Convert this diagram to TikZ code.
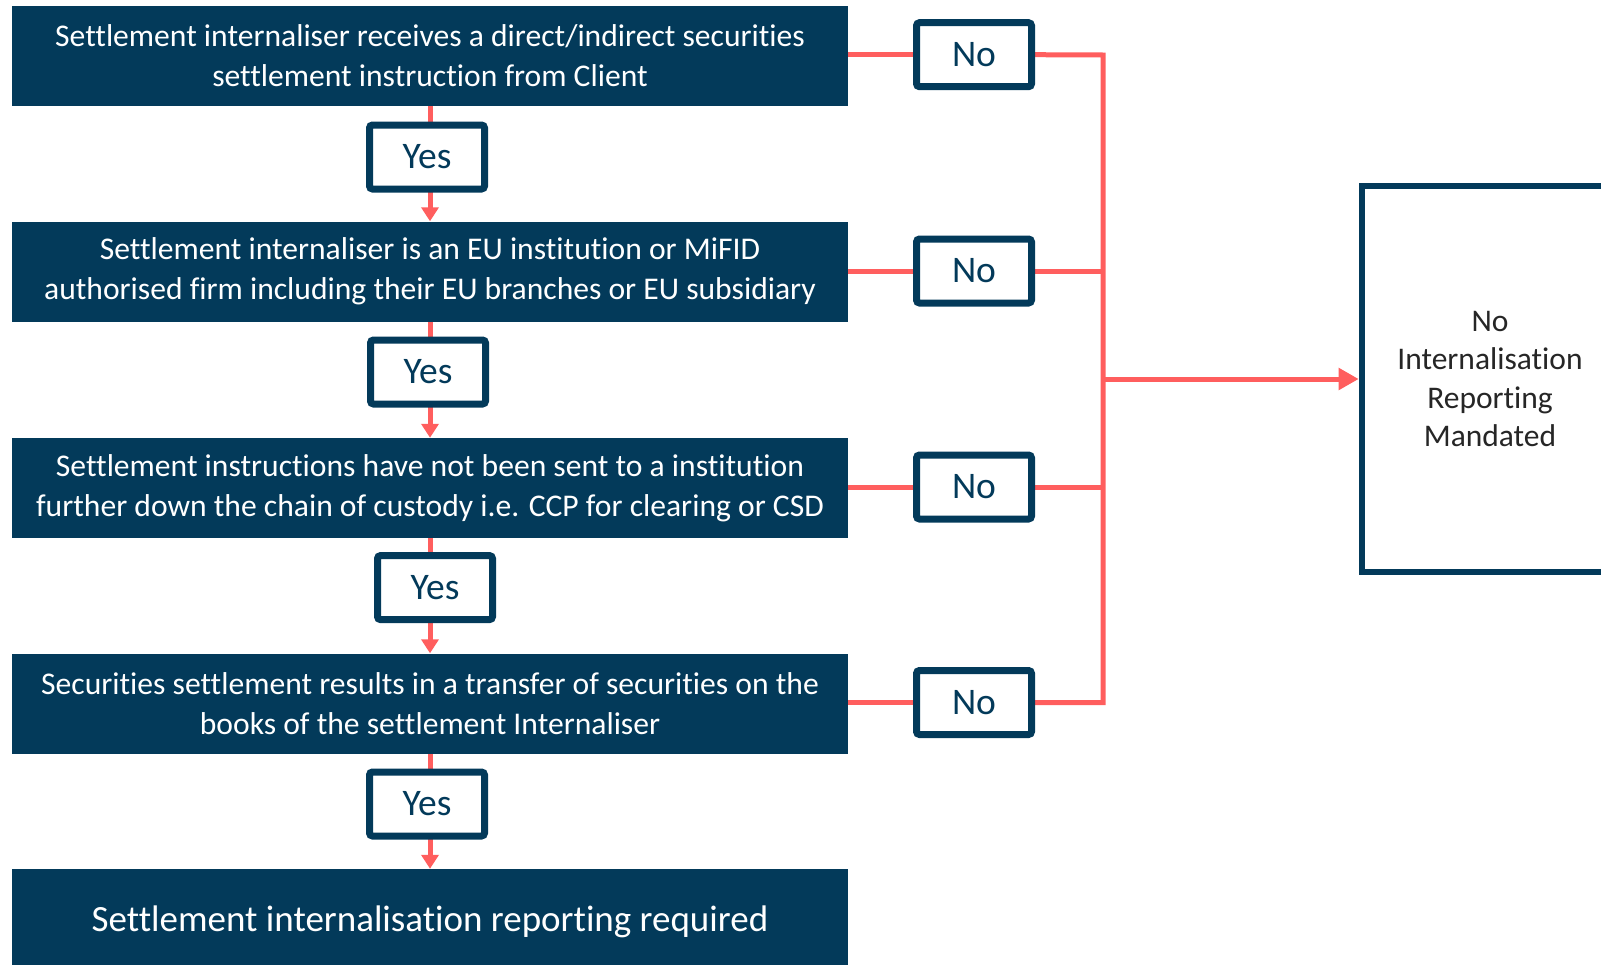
\documentclass[tikz,border=0pt]{standalone}
\usepackage{fontspec}
\setmainfont{Carlito}[Ligatures=NoCommon]
\usetikzlibrary{arrows.meta,backgrounds}
\definecolor{navy}{RGB}{3,58,90}
\definecolor{redl}{RGB}{255,94,94}
\definecolor{txtdark}{RGB}{38,38,38}
\begin{document}
\begin{tikzpicture}[x=1pt,y=-1pt,
  mainbox/.style={fill=navy,draw=none,minimum width=836pt,minimum height=100pt,inner sep=0pt,
    text=white,align=center,font=\fontsize{31.6}{40}\selectfont},
  ynbox/.style={draw=navy,line width=7pt,fill=white,rounded corners=3pt,minimum width=115pt,minimum height=64pt,
    inner sep=0pt,text=navy,font=\fontsize{37.5}{40}\selectfont},
  bigbox/.style={draw=navy,line width=6pt,fill=white,minimum width=256.6pt,minimum height=386.6pt,
    inner sep=0pt,text=txtdark,align=center,font=\fontsize{31.5}{38.5}\selectfont},
  redline/.style={draw=redl,line width=5pt},
  redarrow/.style={redline,-{Triangle[length=14pt,width=17pt]}},
  bigarrow/.style={redline,-{Triangle[length=20pt,width=21pt]}}]
\useasboundingbox (0,0) rectangle (1601,964);
\clip (0,0) rectangle (1601,964);
% main boxes
\node[mainbox] (b1) at (430,56) {Settlement internaliser receives a direct/indirect securities\\settlement instruction from Client};
\node[mainbox] (b2) at (430,271.5) {Settlement internaliser is an EU institution or MiFID\\authorised firm including their EU branches or EU subsidiary};
\node[mainbox] (b3) at (430,488) {Settlement instructions have not been sent to a institution\\further down the chain of custody i.e. CCP for clearing or CSD};
\node[mainbox] (b4) at (430,703.5) {Securities settlement results in a transfer of securities on the\\books of the settlement Internaliser};
\node[mainbox,minimum height=106pt,font=\fontsize{37}{40}\selectfont] (b5) at (430,922) {Settlement internalisation reporting required};
% yes boxes
\node[ynbox] (y1) at (427,157) {Yes};
\node[ynbox] (y2) at (428,372) {Yes};
\node[ynbox] (y3) at (435,587.6) {Yes};
\node[ynbox] (y4) at (427,804) {Yes};
% no boxes
\node[ynbox] (n1) at (974,54.7) {No};
\node[ynbox] (n2) at (974,271) {No};
\node[ynbox] (n3) at (974,487) {No};
\node[ynbox] (n4) at (974,702.5) {No};
% result box
\node[bigbox] (big) at (1490,379) {No\\Internalisation\\Reporting\\Mandated};
% junctions
\coordinate (j1) at (1103,55);
\coordinate (j2) at (1103,271);
\coordinate (j3) at (1103,487);
\coordinate (j4) at (1103,702.5);
\coordinate (jm) at (1103,379);
\begin{scope}[on background layer]
\draw[redarrow] (b1.south) -- (b2.north);
\draw[redarrow] (b2.south) -- (b3.north);
\draw[redarrow] (b3.south) -- (b4.north);
\draw[redarrow] (b4.south) -- (b5.north);
\draw[redline] (b1.east |- n1.west) -- (n1.west);
\draw[redline] (b2.east |- n2.west) -- (n2.west);
\draw[redline] (b3.east |- n3.west) -- (n3.west);
\draw[redline] (b4.east |- n4.west) -- (n4.west);
\draw[redline,line join=miter] (n1.east) -- (j1) -- (j4) -- (n4.east);
\draw[redline] (n2.east) -- (j2);
\draw[redline] (n3.east) -- (j3);
\draw[bigarrow] (jm) -- (big.west);
\end{scope}
\end{tikzpicture}
\end{document}
